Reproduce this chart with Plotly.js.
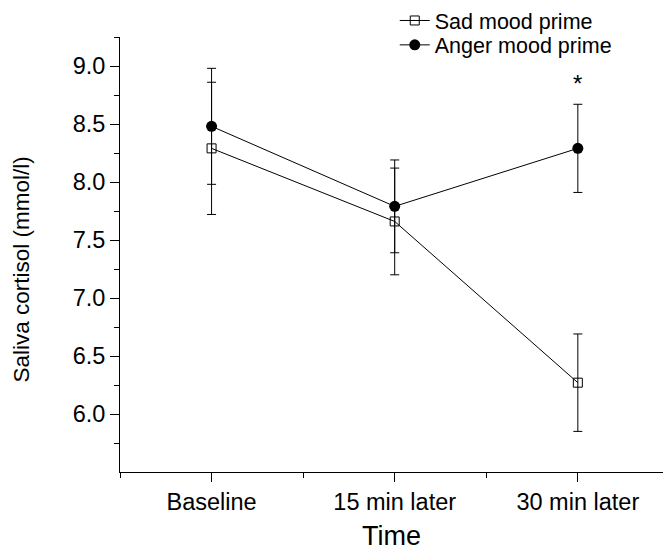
<!DOCTYPE html>
<html>
<head>
<meta charset="utf-8">
<script src="https://cdn.plot.ly/plotly-3.0.1.min.js"></script>
<style>html,body{margin:0;padding:0;background:#fff;overflow:hidden;}</style>
</head>
<body>
<div id="chart" style="width:663px;height:551px;"></div>
<script>
// Data
var categories = ["Baseline", "15 min later", "30 min later"];
var catPos = [0, 1, 2];
var sadMean = [8.29, 7.66, 6.27];
var sadErr = [0.57, 0.46, 0.42];
var angerMean = [8.48, 7.79, 8.29];
var angerErr = [0.50, 0.40, 0.38];
var yTickVals = [6.0, 6.5, 7.0, 7.5, 8.0, 8.5, 9.0];
var yTickText = ["6.0", "6.5", "7.0", "7.5", "8.0", "8.5", "9.0"];

var FONT = "Liberation Sans, Arial, Helvetica, sans-serif";

var traces = [
  {
    x: catPos, y: sadMean, name: "Sad mood prime", type: "scatter", mode: "lines+markers",
    legend: "legend",
    line: {color: "#000", width: 1},
    marker: {symbol: "square-open", size: 9, color: "#000", line: {width: 1, color: "#000"}},
    error_y: {type: "data", array: sadErr, visible: true, color: "#000", thickness: 1, width: 4.5}
  },
  {
    x: catPos, y: angerMean, name: "Anger mood prime", type: "scatter", mode: "lines+markers",
    legend: "legend2",
    line: {color: "#000", width: 1},
    marker: {symbol: "circle", size: 11, color: "#000"},
    error_y: {type: "data", array: angerErr, visible: true, color: "#000", thickness: 1, width: 4.5}
  }
];

var legFont = {family: FONT, size: 21.5, color: "#000"};

var layout = {
  width: 663, height: 551,
  margin: {l: 120, r: 0, t: 37, b: 79},
  paper_bgcolor: "#fff", plot_bgcolor: "#fff",
  font: {family: FONT, color: "#000", size: 23.5},
  showlegend: true,
  legend: {x: 0.506, y: 1.086, xanchor: "left", yanchor: "top", bgcolor: "rgba(0,0,0,0)", font: legFont},
  legend2: {x: 0.506, y: 1.029, xanchor: "left", yanchor: "top", bgcolor: "rgba(0,0,0,0)", font: legFont},
  xaxis: {
    range: [-0.5, 2.465], tickmode: "array", tickvals: catPos, ticktext: categories,
    showgrid: false, zeroline: false, showline: true, linecolor: "#000", linewidth: 1,
    ticks: "outside", ticklen: 9, tickwidth: 1, tickcolor: "#000",
    tickfont: {family: FONT, size: 23.5, color: "#000"},
    minor: {tickmode: "linear", tick0: -0.5, dtick: 1, ticks: "outside", ticklen: 5, tickwidth: 1, tickcolor: "#000", showgrid: false},
    title: {text: "Time", font: {family: FONT, size: 27, color: "#000"}, standoff: 12}
  },
  yaxis: {
    range: [5.5, 9.25], tickmode: "array", tickvals: yTickVals, ticktext: yTickText,
    showgrid: false, zeroline: false, showline: true, linecolor: "#000", linewidth: 1,
    ticks: "outside", ticklen: 9, tickwidth: 1, tickcolor: "#000",
    tickfont: {family: FONT, size: 23.5, color: "#000"},
    minor: {tickmode: "linear", tick0: 5.75, dtick: 0.5, ticks: "outside", ticklen: 5, tickwidth: 1, tickcolor: "#000", showgrid: false}
  },
  annotations: [
    {xref: "x", yref: "y", x: 2, y: 8.85, text: "*", showarrow: false, xanchor: "center", yanchor: "middle",
     font: {family: FONT, size: 24, color: "#000"}},
    {xref: "paper", yref: "paper", x: -0.181, y: 0.465, text: "Saliva cortisol (mmol/l)", textangle: -90,
     showarrow: false, xanchor: "center", yanchor: "middle", font: {family: FONT, size: 22.5, color: "#000"}}
  ]
};

Plotly.newPlot("chart", traces, layout, {displayModeBar: false, staticPlot: true});
</script>
</body>
</html>
